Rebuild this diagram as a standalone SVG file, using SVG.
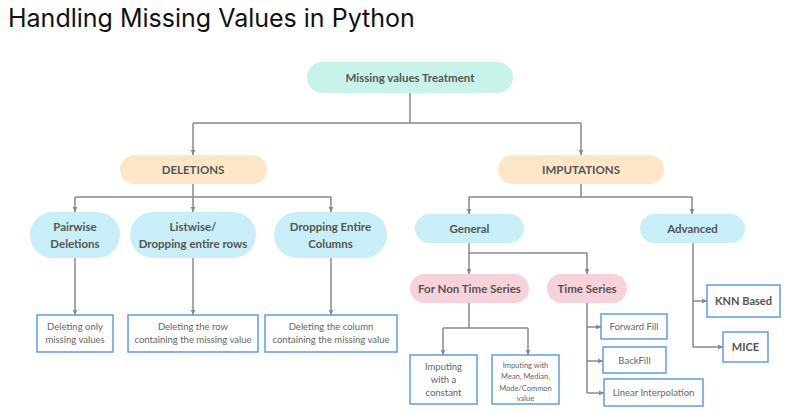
<svg xmlns="http://www.w3.org/2000/svg" width="788" height="412" viewBox="0 0 788 412">
<defs>
<marker id="arr" viewBox="0 0 10 10" refX="9" refY="5" markerWidth="6" markerHeight="6" orient="auto" markerUnits="userSpaceOnUse"><path d="M0,1 L10,5 L0,9 Z" fill="#888"/></marker>
<style>
.t{font-family:Inter,"Liberation Sans",sans-serif;font-size:25px;fill:#111}
.p{font-family:Lato,"Open Sans",sans-serif;font-size:11.5px;font-weight:bold;fill:#555;text-anchor:middle}
.b{font-family:Lato,"Open Sans",sans-serif;font-size:9.5px;fill:#666;text-anchor:middle}
.bb{font-family:Lato,"Open Sans",sans-serif;font-size:11px;font-weight:bold;fill:#555;text-anchor:middle}
.mint{fill:#c8f3ea}.peach{fill:#fde7c6}.blue{fill:#c8eff7}.pink{fill:#f8d2da}
.box{fill:#fff;stroke:#5d9cec;stroke-width:1.5}
.c{fill:none;stroke:#8a8a8a;stroke-width:1.5}
</style>
</defs>
<rect width="788" height="412" fill="#fff"/>
<text class="t" x="8" y="27">Handling Missing Values in Python</text>
<g id="connectors" class="c">
<path d="M410,93 V123"/><path d="M193,123 H581"/>
<path d="M193,123 V155" marker-end="url(#arr)"/><path d="M581,123 V155" marker-end="url(#arr)"/>
<path d="M193,184 V197"/><path d="M75,197 H331"/>
<path d="M75,197 V212" marker-end="url(#arr)"/><path d="M193,197 V212" marker-end="url(#arr)"/><path d="M331,197 V212" marker-end="url(#arr)"/>
<path d="M75,258 V315" marker-end="url(#arr)"/><path d="M193,258 V315" marker-end="url(#arr)"/><path d="M331,258 V315" marker-end="url(#arr)"/>
<path d="M581,184 V197"/><path d="M469,197 H692"/>
<path d="M469,197 V214" marker-end="url(#arr)"/><path d="M692,197 V214" marker-end="url(#arr)"/>
<path d="M469,243 V253 H587"/>
<path d="M469,253 V274" marker-end="url(#arr)"/><path d="M587,253 V274" marker-end="url(#arr)"/>
<path d="M469,303 V328"/><path d="M443,328 H528"/>
<path d="M443,328 V355" marker-end="url(#arr)"/><path d="M528,328 V355" marker-end="url(#arr)"/>
<path d="M587,303 V393"/>
<path d="M587,327 H601" marker-end="url(#arr)"/><path d="M587,361 H603" marker-end="url(#arr)"/><path d="M587,393 H604" marker-end="url(#arr)"/>
<path d="M693,243 V347"/>
<path d="M693,301 H707" marker-end="url(#arr)"/><path d="M693,347 H723" marker-end="url(#arr)"/>
</g>
<g id="root"><rect class="mint" x="307" y="62" width="206" height="31" rx="15.5"/><text class="p" x="410" y="81.5">Missing values Treatment</text></g>
<g id="deletions"><rect class="peach" x="120" y="155" width="147" height="29" rx="14.5"/><text class="p" x="193" y="174">DELETIONS</text></g>
<g id="imputations"><rect class="peach" x="498" y="155" width="166" height="29" rx="14.5"/><text class="p" x="581" y="174">IMPUTATIONS</text></g>
<g id="pairwise"><rect class="blue" x="30" y="212" width="90" height="46" rx="23"/><text class="p" x="75" y="231">Pairwise</text><text class="p" x="75" y="247.5">Deletions</text></g>
<g id="listwise"><rect class="blue" x="130" y="212" width="126" height="46" rx="23"/><text class="p" x="193" y="231">Listwise/</text><text class="p" x="193" y="247.5">Dropping entire rows</text></g>
<g id="dropcols"><rect class="blue" x="274" y="212" width="113" height="46" rx="23"/><text class="p" x="330.5" y="231">Dropping Entire</text><text class="p" x="330.5" y="247.5">Columns</text></g>
<g id="box-only"><rect class="box" x="37" y="315" width="76" height="37"/><text class="b" x="75" y="330">Deleting only</text><text class="b" x="75" y="342.5">missing values</text></g>
<g id="box-row"><rect class="box" x="128" y="315" width="130" height="37"/><text class="b" x="193" y="330">Deleting the row</text><text class="b" x="193" y="342.5">containing the missing value</text></g>
<g id="box-col"><rect class="box" x="265" y="315" width="132" height="37"/><text class="b" x="331" y="330">Deleting the column</text><text class="b" x="331" y="342.5">containing the missing value</text></g>
<g id="general"><rect class="blue" x="415" y="214" width="109" height="29" rx="14.5"/><text class="p" x="469.5" y="232.5">General</text></g>
<g id="advanced"><rect class="blue" x="640" y="214" width="105" height="29" rx="14.5"/><text class="p" x="692.5" y="232.5">Advanced</text></g>
<g id="nonts"><rect class="pink" x="410" y="274" width="119" height="29" rx="14.5"/><text class="p" x="469.5" y="293">For Non Time Series</text></g>
<g id="ts"><rect class="pink" x="547" y="274" width="80" height="29" rx="14.5"/><text class="p" x="587" y="293">Time Series</text></g>
<g id="box-const"><rect class="box" x="410" y="355" width="67" height="49"/><text class="b" x="443.5" y="370">Imputing</text><text class="b" x="443.5" y="383">with a</text><text class="b" x="443.5" y="396">constant</text></g>
<g id="box-mean"><rect class="box" x="492" y="355" width="67" height="49"/><text class="b" style="font-size:7.5px" x="525.5" y="368">Imputing with</text><text class="b" style="font-size:7.5px" x="525.5" y="379">Mean, Median,</text><text class="b" style="font-size:7.5px" x="525.5" y="390.5">Mode/Common</text><text class="b" style="font-size:7.5px" x="525.5" y="401">value</text></g>
<g id="box-ff"><rect class="box" x="601" y="314" width="66" height="25"/><text class="b" x="634" y="330">Forward Fill</text></g>
<g id="box-bf"><rect class="box" x="603" y="347" width="63" height="26"/><text class="b" x="634.5" y="363.5">BackFill</text></g>
<g id="box-li"><rect class="box" x="604" y="379" width="99" height="27"/><text class="b" x="653.5" y="396">Linear Interpolation</text></g>
<g id="box-knn"><rect class="box" x="707" y="285" width="73" height="32"/><text class="bb" x="743.5" y="305">KNN Based</text></g>
<g id="box-mice"><rect class="box" x="723" y="332" width="45" height="30"/><text class="bb" x="745.5" y="351">MICE</text></g>
</svg>
